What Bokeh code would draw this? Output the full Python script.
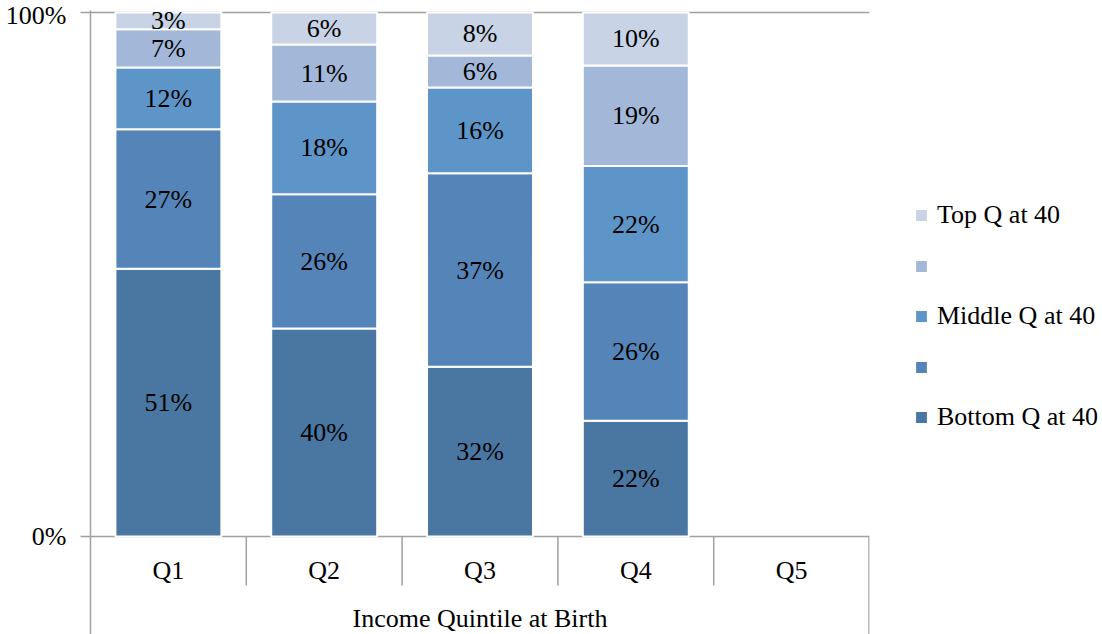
from bokeh.plotting import figure
from bokeh.models import FactorRange, Range1d, FixedTicker, Legend, LegendItem, ColumnDataSource
from bokeh.core.properties import value
from bokeh.embed import file_html
from bokeh.resources import INLINE

# ---- data ----
categories = ["Q1", "Q2", "Q3", "Q4", "Q5"]
bar_categories = ["Q1", "Q2", "Q3", "Q4"]
bottom_q = [51.1, 39.7, 32.4, 22.1]
second_q = [26.6, 25.6, 36.9, 26.4]
middle_q = [11.8, 17.7, 16.4, 22.2]
fourth_q = [7.3, 10.9, 6.1, 19.2]
top_q = [3.2, 6.1, 8.2, 10.1]
series_keys = ["bottom", "second", "middle", "fourth", "top"]
series_names = ["Bottom Q at 40", " ", "Middle Q at 40", " ", "Top Q at 40"]
colors = ["#4A76A2", "#5585B8", "#5E95C9", "#A3B8D9", "#C8D3E6"]
x_title = "Income Quintile at Birth"
y_ticks = [0, 100]
y_tick_labels = ["0%", "100%"]

FONT = "Liberation Serif"
FS = "26px"
GREY = "#A0A0A0"

px_per_unit = 5.24
p = figure(
    frame_width=779, frame_height=624,
    x_range=FactorRange(*categories, range_padding=0),
    y_range=Range1d(-98 / px_per_unit, 100 + 2 / px_per_unit),
    output_backend="svg", toolbar_location=None,
    min_border_left=90, min_border_right=233, min_border_top=10, min_border_bottom=0,
    x_axis_location=None, outline_line_color=None,
)

src = ColumnDataSource(dict(x=bar_categories, bottom=bottom_q, second=second_q,
                            middle=middle_q, fourth=fourth_q, top=top_q))
rs = p.vbar_stack(series_keys, x="x", width=0.68, color=colors, source=src,
                  line_color="white", line_width=2)

# segment labels
lx, ly, lt = [], [], []
for i, c in enumerate(bar_categories):
    base = 0.0
    for key in series_keys:
        v = src.data[key][i]
        lx.append(c)
        ly.append(base + v / 2)
        lt.append(f"{round(v)}%")
        base += v
p.text(x=lx, y=ly, text=lt, text_font=value(FONT), text_font_size=FS,
       text_align="center", text_baseline="middle", text_color="black")

# category labels and group title (inside the extended frame, below 0)
p.text(x=categories, y=[-34 / px_per_unit] * len(categories), text=categories,
       text_font=value(FONT), text_font_size=FS, text_align="center",
       text_baseline="middle", text_color="black")
p.text(x=[len(categories) / 2], y=[-82 / px_per_unit], text=[x_title],
       text_font=value(FONT), text_font_size=FS, text_align="center",
       text_baseline="middle", text_color="black")

# category separators
sep_x = [1, 2, 3, 4]
p.segment(x0=sep_x, y0=[0] * 4, x1=sep_x, y1=[-49 / px_per_unit] * 4,
          line_color=GREY, line_width=1.5)
p.segment(x0=[4.997], y0=[0], x1=[4.997], y1=[-98 / px_per_unit],
          line_color=GREY, line_width=1.5)

# y axis
ya = p.yaxis[0]
ya.ticker = FixedTicker(ticks=y_ticks)
ya.major_label_overrides = {t: l for t, l in zip(y_ticks, y_tick_labels)}
ya.major_tick_out = 10
ya.major_tick_in = 0
ya.minor_tick_line_color = None
ya.axis_line_color = GREY
ya.axis_line_width = 1.5
ya.major_tick_line_color = GREY
ya.major_tick_line_width = 1.5
ya.major_label_text_font = FONT
ya.major_label_text_font_size = FS
ya.major_label_text_color = "black"
ya.major_label_standoff = 14

p.xgrid.visible = False
p.ygrid.ticker = FixedTicker(ticks=y_ticks)
p.ygrid.grid_line_color = GREY
p.ygrid.grid_line_width = 1.5

items = [LegendItem(label=series_names[i], renderers=[rs[i]]) for i in reversed(range(5))]
legend = Legend(items=items, location=(44, 202), orientation="vertical",
                label_text_font=FONT, label_text_font_size=FS, label_text_color="black",
                glyph_width=16, glyph_height=16, label_standoff=8,
                label_height=29, spacing=21, padding=0, margin=0,
                border_line_color=None, background_fill_alpha=0)
p.add_layout(legend, "right")

open("out.html", "w").write(file_html(p, INLINE))
